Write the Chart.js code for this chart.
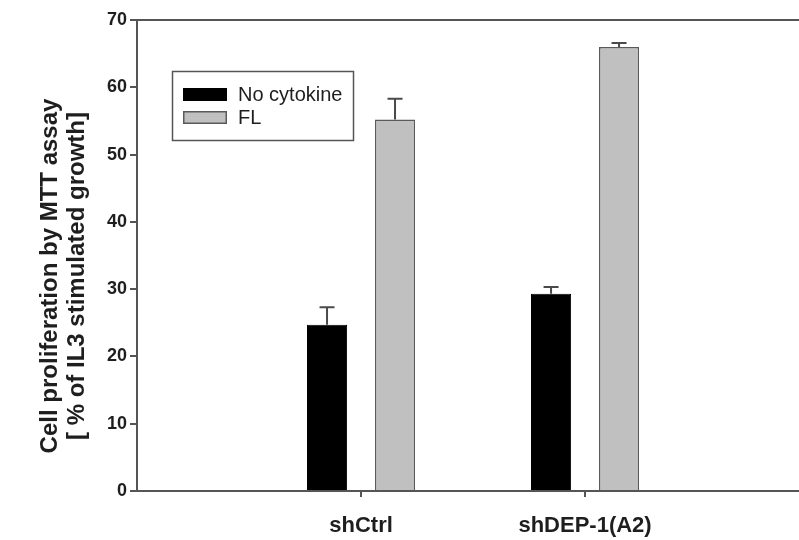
<!DOCTYPE html>
<html>
<head>
<meta charset="utf-8">
<script src="https://cdn.jsdelivr.net/npm/chart.js@4"></script>
<style>
  html, body { margin: 0; padding: 0; background: #fff; overflow: hidden; }
  #wrap { width: 799px; height: 540px; }
</style>
</head>
<body>
<div id="wrap"><canvas id="c" width="799" height="540"></canvas></div>
<script>
// Cell proliferation (MTT assay), % of IL3-stimulated growth
const categories = ['shCtrl', 'shDEP-1(A2)'];
const seriesNames = ['No cytokine', 'FL'];
const noCytokine = [24.7, 29.3];
const noCytokineErr = [2.6, 1.0];
const fl = [55.2, 66.0];
const flErr = [3.1, 0.6];
const yTicks = [0, 10, 20, 30, 40, 50, 60, 70];
const yTitle = ['Cell proliferation by MTT assay', '[ % of IL3 stimulated growth]'];

const FONT = '"Liberation Sans", Arial, sans-serif';
const AXIS = '#555';
const TEXT = '#1e1e1e';
const fills = ['#000000', '#c0c0c0'];
const borders = ['#000000', '#5a5a5a'];
const errors = [noCytokineErr, flErr];

const toPoints = vals => categories.map((c, i) => ({ x: i + 1, y: vals[i] }));

// upward-only error bars with a short cap
const errorBars = {
  id: 'errorBars',
  afterDatasetsDraw(chart) {
    const ctx = chart.ctx;
    const yScale = chart.scales.y;
    ctx.save();
    ctx.strokeStyle = '#4a4a4a';
    ctx.lineWidth = 2;
    chart.data.datasets.forEach((ds, di) => {
      const meta = chart.getDatasetMeta(di);
      meta.data.forEach((bar, j) => {
        const top = yScale.getPixelForValue(ds.data[j].y + errors[di][j]);
        ctx.beginPath();
        ctx.moveTo(bar.x, bar.y);
        ctx.lineTo(bar.x, top);
        ctx.moveTo(bar.x - 7.5, top);
        ctx.lineTo(bar.x + 7.5, top);
        ctx.stroke();
      });
    });
    ctx.restore();
  }
};

// boxed legend inside the plot and the two-line rotated y title
const decorations = {
  id: 'decorations',
  afterDraw(chart) {
    const ctx = chart.ctx;
    ctx.save();
    // legend box
    ctx.strokeStyle = AXIS;
    ctx.lineWidth = 1.5;
    ctx.strokeRect(172.5, 71.5, 181, 69);
    seriesNames.forEach((name, i) => {
      const y = 88 + i * 23;
      ctx.fillStyle = fills[i];
      ctx.fillRect(183, y, 44, 13);
      ctx.strokeStyle = borders[i];
      ctx.lineWidth = 1.5;
      ctx.strokeRect(183.75, y + 0.75, 42.5, 11.5);
      ctx.fillStyle = TEXT;
      ctx.font = '20px ' + FONT;
      ctx.textBaseline = 'middle';
      ctx.textAlign = 'left';
      ctx.fillText(name, 238, y + 7);
    });
    // y axis title
    ctx.translate(0, 276);
    ctx.rotate(-Math.PI / 2);
    ctx.fillStyle = TEXT;
    ctx.font = 'bold 24px ' + FONT;
    ctx.textAlign = 'center';
    ctx.textBaseline = 'middle';
    ctx.fillText(yTitle[0], 0, 50);
    ctx.fillText(yTitle[1], 0, 77);
    ctx.restore();
  }
};

new Chart(document.getElementById('c'), {
  type: 'bar',
  data: {
    datasets: [
      { label: seriesNames[0], data: toPoints(noCytokine), backgroundColor: fills[0], borderColor: borders[0], borderWidth: 1 },
      { label: seriesNames[1], data: toPoints(fl), backgroundColor: fills[1], borderColor: borders[1], borderWidth: 1.5 }
    ]
  },
  options: {
    responsive: false,
    animation: false,
    devicePixelRatio: 1,
    layout: { padding: { top: 20, right: 0, left: 0, bottom: 0 } },
    datasets: { bar: { categoryPercentage: 0.607, barPercentage: 0.59 } },
    plugins: { legend: { display: false }, tooltip: { enabled: false } },
    scales: {
      x: {
        type: 'linear',
        offset: false,
        min: 0,
        max: 2.955,
        afterBuildTicks(scale) { scale.ticks = categories.map((c, i) => ({ value: i + 1 })); },
        afterFit(scale) { scale.height = 49; },
        ticks: {
          autoSkip: false,
          maxRotation: 0,
          padding: 16,
          color: TEXT,
          font: { family: FONT, size: 22, weight: 'bold' },
          callback: v => categories[v - 1]
        },
        grid: { offset: false, drawOnChartArea: false, drawTicks: true, tickLength: 6, color: AXIS, lineWidth: 2 },
        border: { display: true, color: AXIS, width: 2 }
      },
      // plain frame line along the top of the plot
      xTop: {
        type: 'linear',
        position: 'top',
        offset: false,
        min: 0,
        max: 2.955,
        afterFit(scale) { scale.height = 0; },
        ticks: { display: false },
        grid: { display: false, drawTicks: false },
        border: { display: true, color: AXIS, width: 2 }
      },
      y: {
        min: 0,
        max: 70,
        afterBuildTicks(scale) { scale.ticks = yTicks.map(v => ({ value: v })); },
        afterFit(scale) { scale.width = 137; },
        ticks: {
          padding: 3,
          color: TEXT,
          font: { family: FONT, size: 18, weight: 'bold' }
        },
        grid: { drawOnChartArea: false, drawTicks: true, tickLength: 7, color: AXIS, lineWidth: 2 },
        border: { display: true, color: AXIS, width: 2 }
      }
    }
  },
  plugins: [errorBars, decorations]
});
</script>
</body>
</html>
